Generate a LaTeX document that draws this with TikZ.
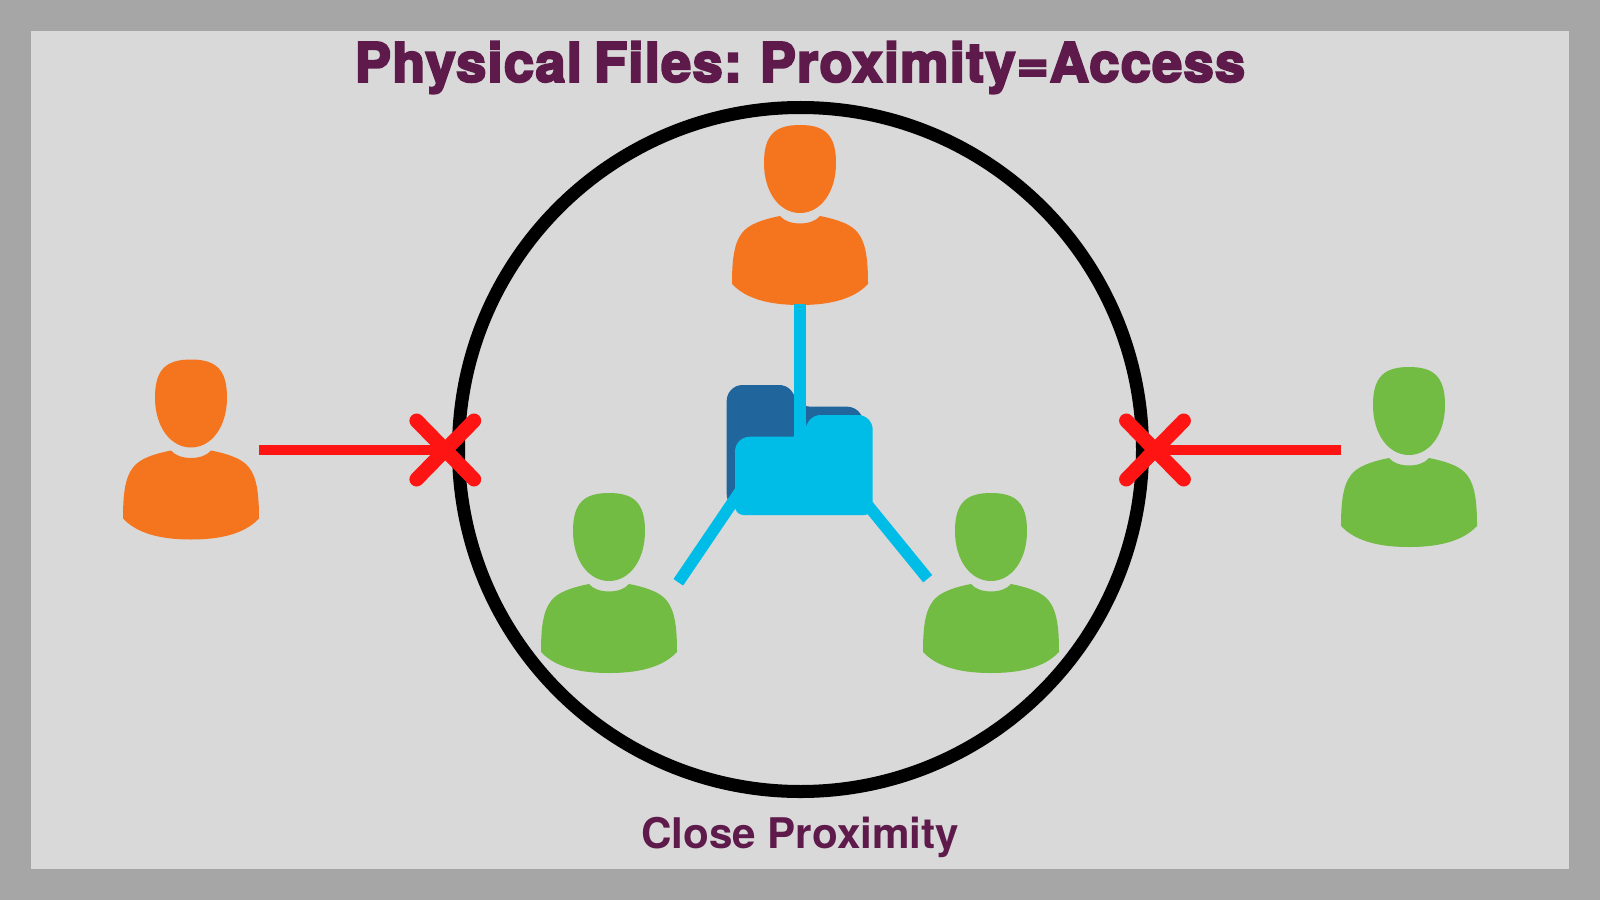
\documentclass[tikz,border=0pt]{standalone}
\usepackage{xcolor}
\usepackage{fontspec}
\usetikzlibrary{calc}
\newfontfamily\titlefont[LetterSpace=2.4,WordSpace=0.75,BoldFeatures={FakeBold=4}]{TeX Gyre Heros}
\newfontfamily\labelfont{TeX Gyre Heros}
\definecolor{framegray}{HTML}{A6A6A6}
\definecolor{panelgray}{HTML}{D9D9D9}
\definecolor{manorange}{HTML}{F5751F}
\definecolor{mangreen}{HTML}{72BC44}
\definecolor{linkblue}{HTML}{00BDE8}
\definecolor{folderblue}{HTML}{20659B}
\definecolor{crossred}{HTML}{FF1414}
\definecolor{textpurple}{HTML}{5E1A4A}
\tikzset{
	person/.pic={
		\fill[#1] (0,0) .. controls (25,0) and (36,10) .. (36,38) .. controls (36,68) and (20,88) .. (0,88)
			.. controls (-20,88) and (-36,68) .. (-36,38) .. controls (-36,10) and (-25,0) .. (0,0) -- cycle;
		\fill[#1] (-20,91) .. controls (-12,101) and (12,101) .. (20,91)
			.. controls (40,95) and (52,100) .. (58,108) .. controls (66,118) and (68,135) .. (68,159)
			.. controls (52,176) and (25,180) .. (0,180) .. controls (-25,180) and (-52,176) .. (-68,159)
			.. controls (-68,135) and (-66,118) .. (-58,108) .. controls (-52,100) and (-40,95) .. (-20,91) -- cycle;
	},
	link/.style={linkblue,line width=3.3pt},
	redline/.style={crossred,line width=3pt},
	crossarm/.style={crossred,line width=4.1pt,line cap=round}
}
\begin{document}
\begin{tikzpicture}[x=0.01cm,y=-0.01cm]
	\useasboundingbox (0,0) rectangle (1600,900);
	\fill[framegray] (0,0) rectangle (1600,900);
	\fill[panelgray] (31,31) rectangle (1569,869);
	\node[anchor=base,text=textpurple] (title) at (800,81.7) {\titlefont\bfseries\fontsize{15.4}{20}\selectfont Physical Files: Proximity=Access};
	\node[anchor=base,text=textpurple] (caption) at (800,848.5) {\labelfont\bfseries\fontsize{12}{14}\selectfont Close Proximity};
	\draw[black,line width=3.7pt] (800.5,449.5) circle (342);
	% people
	\pic at (800,125) {person=manorange};
	\pic at (191,359.5) {person=manorange};
	\pic at (1409,367) {person=mangreen};
	\pic at (609,493) {person=mangreen};
	\pic at (991,493) {person=mangreen};
	% folder
	\fill[folderblue,rounded corners=4.5pt] (726.7,510) -- (726.7,385) -- (795,385) -- (795,406.7) -- (795,406.7) -- (863,406.7) -- (863,510) -- cycle;
	\coordinate (topfoot) at (800,304);
	\coordinate (foldertop) at (800,440);
	\coordinate (folderleft) at (752.9,472.3);
	\coordinate (folderright) at (859.7,495.3);
	\coordinate (leftarm) at (678.3,582.3);
	\coordinate (rightarm) at (927.7,578.7);
	\draw[link] (topfoot) -- (foldertop);
	\draw[link] (folderleft) -- (leftarm);
	\draw[link] (folderright) -- (rightarm);
	\fill[linkblue,rounded corners=2.4pt] (760,515) -- (735,515) [rounded corners=4.2pt] -- (735,436.7) -- (806,436.7) [sharp corners] -- (806,430) [rounded corners=4.2pt] -- (806,415) -- (872.7,415) [rounded corners=2.4pt] -- (872.7,515) -- cycle;
	% blocked people
	\coordinate (crossleft) at (445.3,450);
	\coordinate (crossright) at (1155,450);
	\coordinate (lefthand) at (259,450);
	\coordinate (righthand) at (1341,450);
	\draw[redline] (lefthand) -- (crossleft);
	\draw[redline] (righthand) -- (crossright);
	\foreach \c in {crossleft,crossright}{
		\draw[crossarm] ($(\c)+(-28.7,-29.3)$) -- ($(\c)+(28.7,29.3)$);
		\draw[crossarm] ($(\c)+(-28.7,29.3)$) -- ($(\c)+(28.7,-29.3)$);
	}
\end{tikzpicture}
\end{document}
